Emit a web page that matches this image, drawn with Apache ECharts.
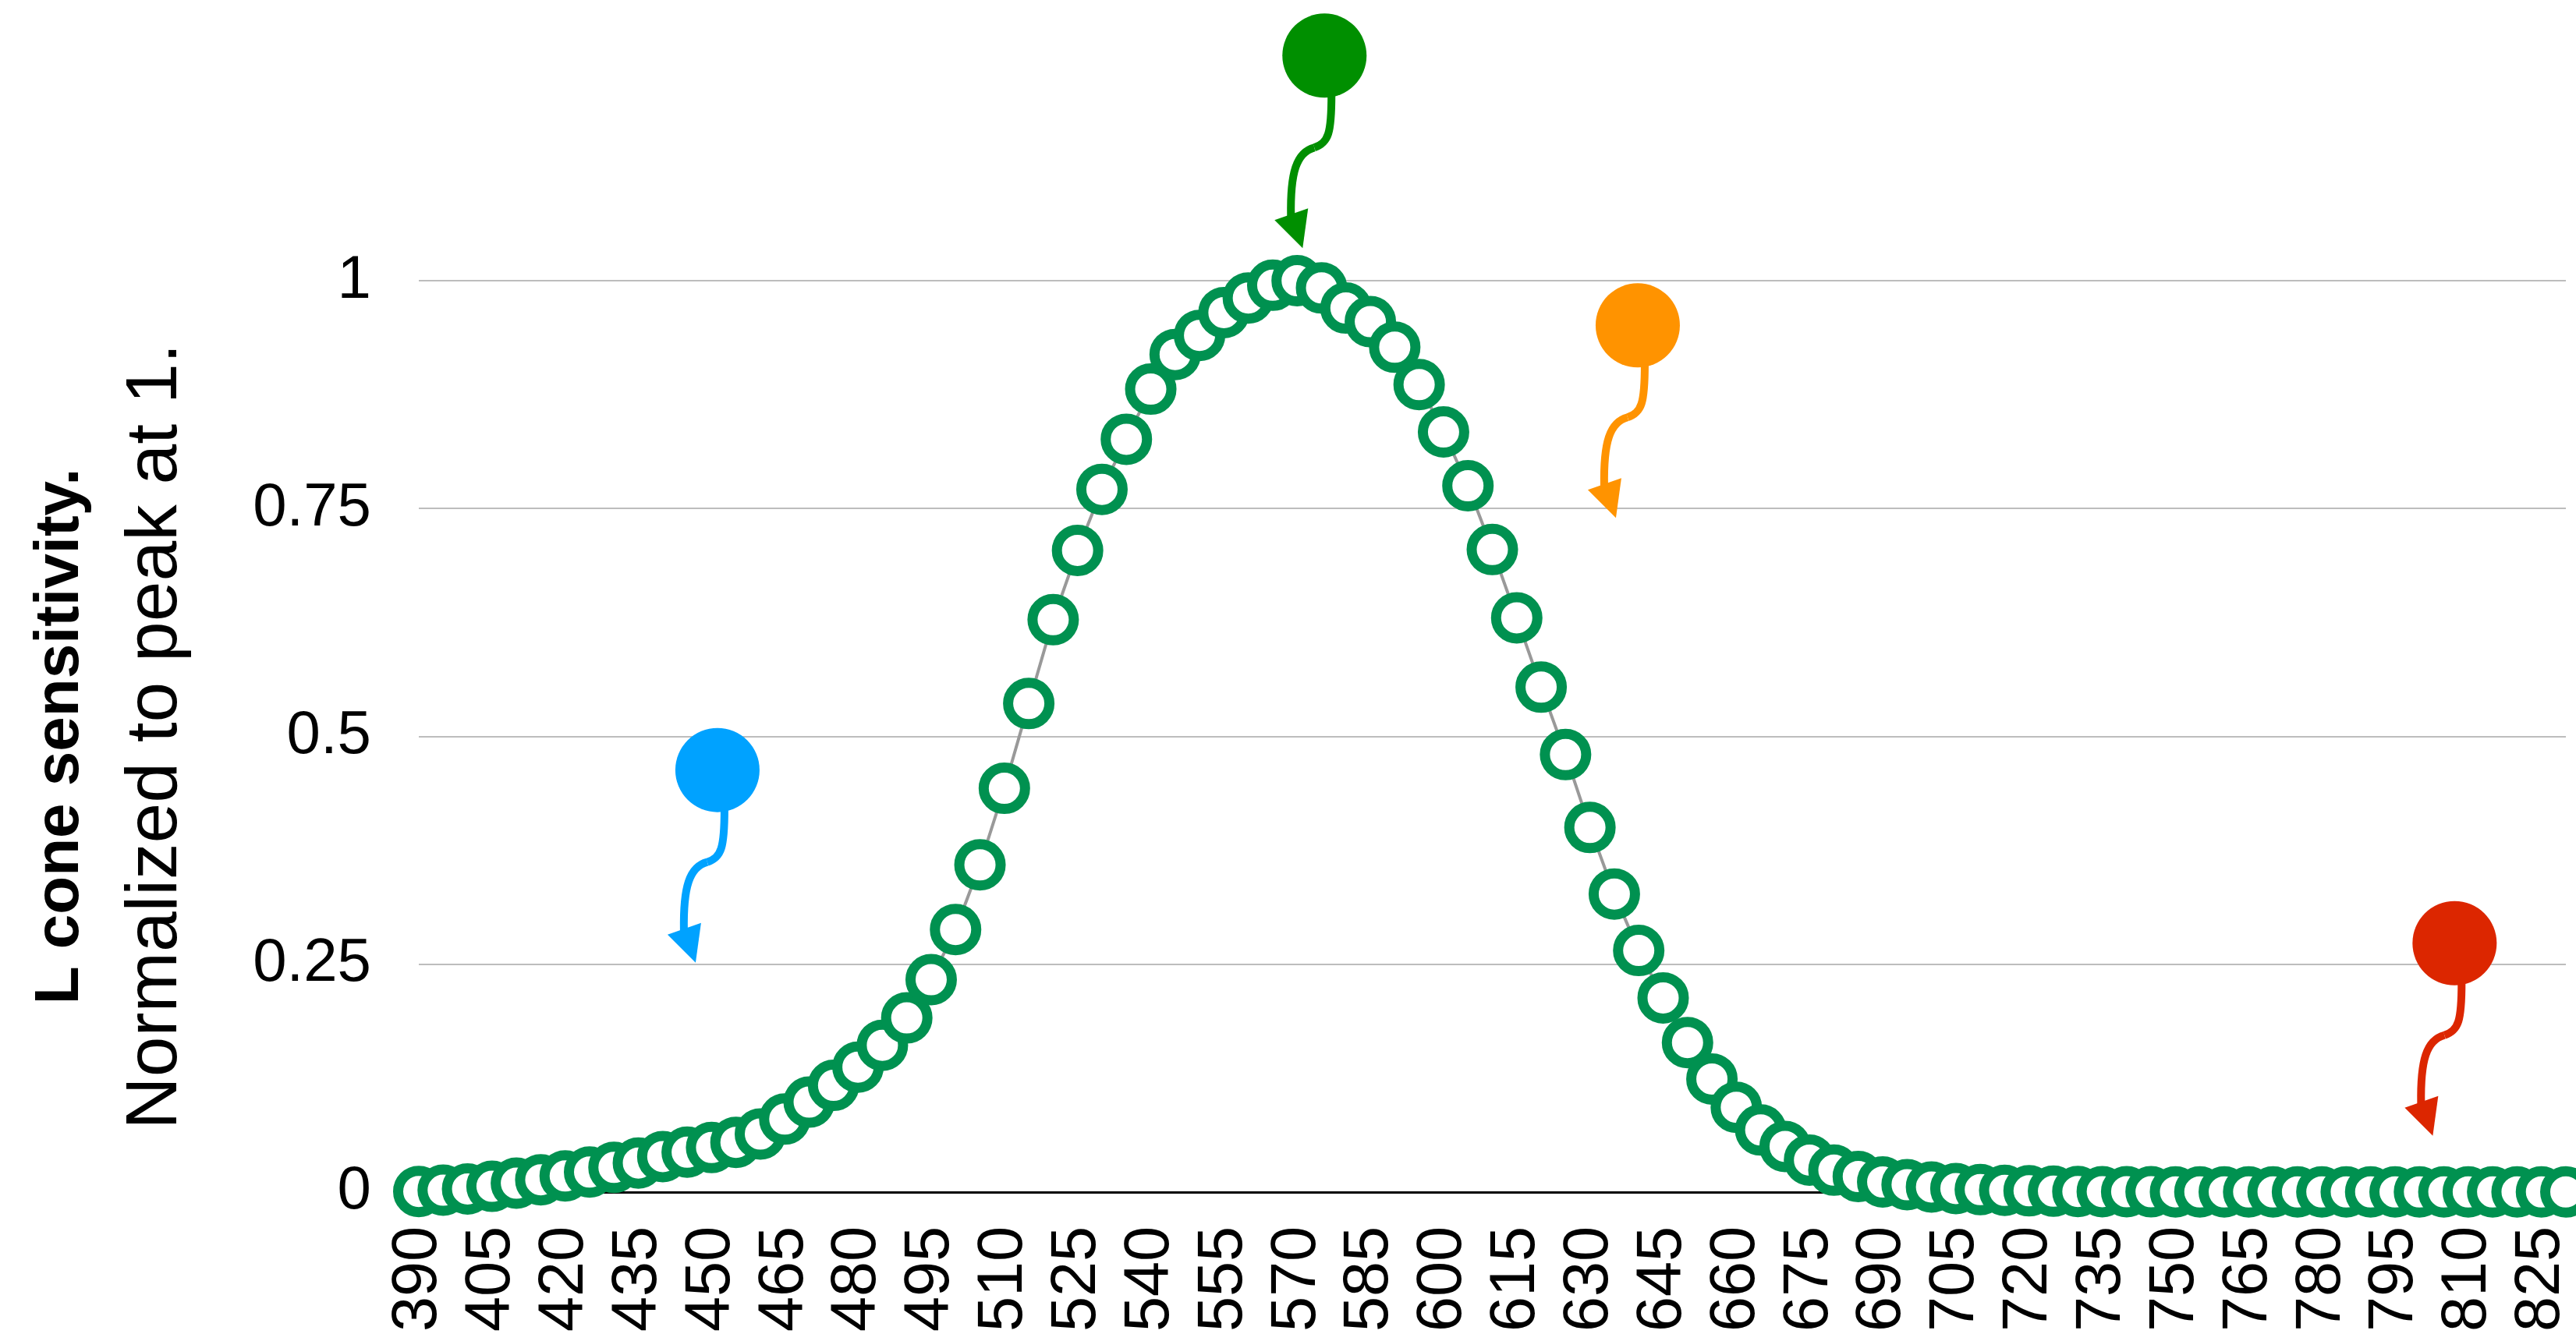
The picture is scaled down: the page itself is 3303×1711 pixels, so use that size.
<!DOCTYPE html>
<html>
<head>
<meta charset="utf-8">
<script src="https://cdn.jsdelivr.net/npm/echarts@6/dist/echarts.min.js"></script>
<style>
html,body{margin:0;padding:0;background:#fff;}
#chart{width:3303px;height:1711px;}
</style>
</head>
<body>
<div id="chart"></div>
<script>
// Wavelength categories (nm)
const wavelengths = ['390','395','400','405','410','415','420','425','430','435','440','445','450','455','460','465','470','475','480','485',
 '490','495','500','505','510','515','520','525','530','535','540','545','550','555','560','565','570','575','580','585',
 '590','595','600','605','610','615','620','625','630','635','640','645','650','655','660','665','670','675','680','685',
 '690','695','700','705','710','715','720','725','730','735','740','745','750','755','760','765','770','775','780','785',
 '790','795','800','805','810','815','820','825','830'];

// L cone sensitivity, normalized to peak at 1
const sensitivity = [0.0006,0.002,0.0034,0.0062,0.0097,0.0134,0.0176,0.0219,0.027,0.0318,0.0389,0.0437,0.0488,0.0545,0.0636,0.080,0.0986,0.117,0.137,0.161,
 0.191,0.233,0.288,0.359,0.443,0.536,0.628,0.704,0.771,0.826,0.881,0.919,0.940,0.965,0.981,0.995,1.0,0.992,0.970,0.955,
 0.927,0.886,0.834,0.775,0.705,0.630,0.554,0.480,0.400,0.327,0.265,0.213,0.164,0.124,0.093,0.068,0.050,0.035,0.024,0.017,
 0.011,0.008,0.0055,0.0038,0.0026,0.0018,0.0013,0.0009,0.0006,0.0004,0.0003,0.0002,0.00015,0.0001,0.0001,0.0001,0.0001,0.0001,0.0001,0.0001,
 0.0001,0.0001,0.0001,0.0001,0.0001,0.0001,0.0001,0.0001,0.0001];

// Balloon annotations: wavelength position (nm) and height (sensitivity units)
const balloonX = [451.2, 575.6, 639.8, 807.2];
const balloonY = [0.463, 1.247, 0.951, 0.273];
const balloonColors = ['#00A2FF', '#008F00', '#FF9300', '#DC2600'];

const yTicks = [0, 0.25, 0.5, 0.75, 1];

const FONT = '"Liberation Sans", Arial, Helvetica, sans-serif';

const chart = echarts.init(document.getElementById('chart'), null, {renderer: 'canvas'});

function renderBalloon(params, api) {
  const p = api.coord([api.value(0), api.value(1)]);
  const c = balloonColors[params.dataIndex];
  return {
    type: 'group',
    x: p[0], y: p[1],
    children: [
      {type: 'circle', shape: {cx: 0, cy: 0, r: 54}, style: {fill: c}},
      {type: 'bezierCurve', shape: {x1: 9, y1: 50, cpx1: 9, cpy1: 100, cpx2: 5, cpy2: 112, x2: -13, y2: 118},
        style: {stroke: c, lineWidth: 10, fill: null}},
      {type: 'bezierCurve', shape: {x1: -13, y1: 118, cpx1: -36, cpy1: 124, cpx2: -44, cpy2: 150, x2: -43, y2: 206},
        style: {stroke: c, lineWidth: 10, fill: null}},
      {type: 'polygon', shape: {points: [[-64, 211], [-21, 196], [-28, 247]]}, style: {fill: c}}
    ]
  };
}

const option = {
  backgroundColor: '#ffffff',
  animation: false,
  textStyle: {fontFamily: FONT},
  grid: {left: 537, right: 13, top: 360, bottom: 177, containLabel: false},
  xAxis: [{
    type: 'category',
    data: wavelengths,
    boundaryGap: false,
    axisLine: {show: true, lineStyle: {color: '#000', width: 3}},
    axisTick: {show: false},
    splitLine: {show: false},
    axisLabel: {
      interval: 2, rotate: 90, margin: 44,
      fontSize: 81, color: '#000', fontFamily: FONT
    }
  }, {
    type: 'value', min: 390, max: 830, show: false
  }],
  yAxis: {
    type: 'value', min: yTicks[0], max: yTicks[yTicks.length - 1], interval: 0.25,
    axisLine: {show: false},
    axisTick: {show: false},
    splitLine: {show: true, lineStyle: {color: '#BDBDBD', width: 2}},
    axisLabel: {fontSize: 78, color: '#000', margin: 61, fontFamily: FONT},
    name: '{b|L cone sensitivity.}\n{r|Normalized to peak at 1.}',
    nameLocation: 'middle',
    nameRotate: 90,
    nameGap: 275,
    nameTextStyle: {
      align: 'center',
      rich: {
        b: {fontSize: 80, fontWeight: 'bold', color: '#000', lineHeight: 123, fontFamily: FONT},
        r: {fontSize: 93, fontWeight: 'normal', color: '#000', lineHeight: 123, fontFamily: FONT}
      }
    }
  },
  series: [{
    type: 'line',
    data: sensitivity,
    xAxisIndex: 0,
    yAxisIndex: 0,
    symbol: 'circle',
    symbolSize: 53,
    showAllSymbol: true,
    lineStyle: {color: '#999999', width: 4},
    itemStyle: {color: '#ffffff', borderColor: '#009150', borderWidth: 13},
    z: 3
  }, {
    type: 'custom',
    xAxisIndex: 1,
    yAxisIndex: 0,
    data: balloonX.map((x, i) => [x, balloonY[i]]),
    renderItem: renderBalloon,
    clip: false,
    z: 4
  }]
};

chart.setOption(option);
</script>
</body>
</html>
